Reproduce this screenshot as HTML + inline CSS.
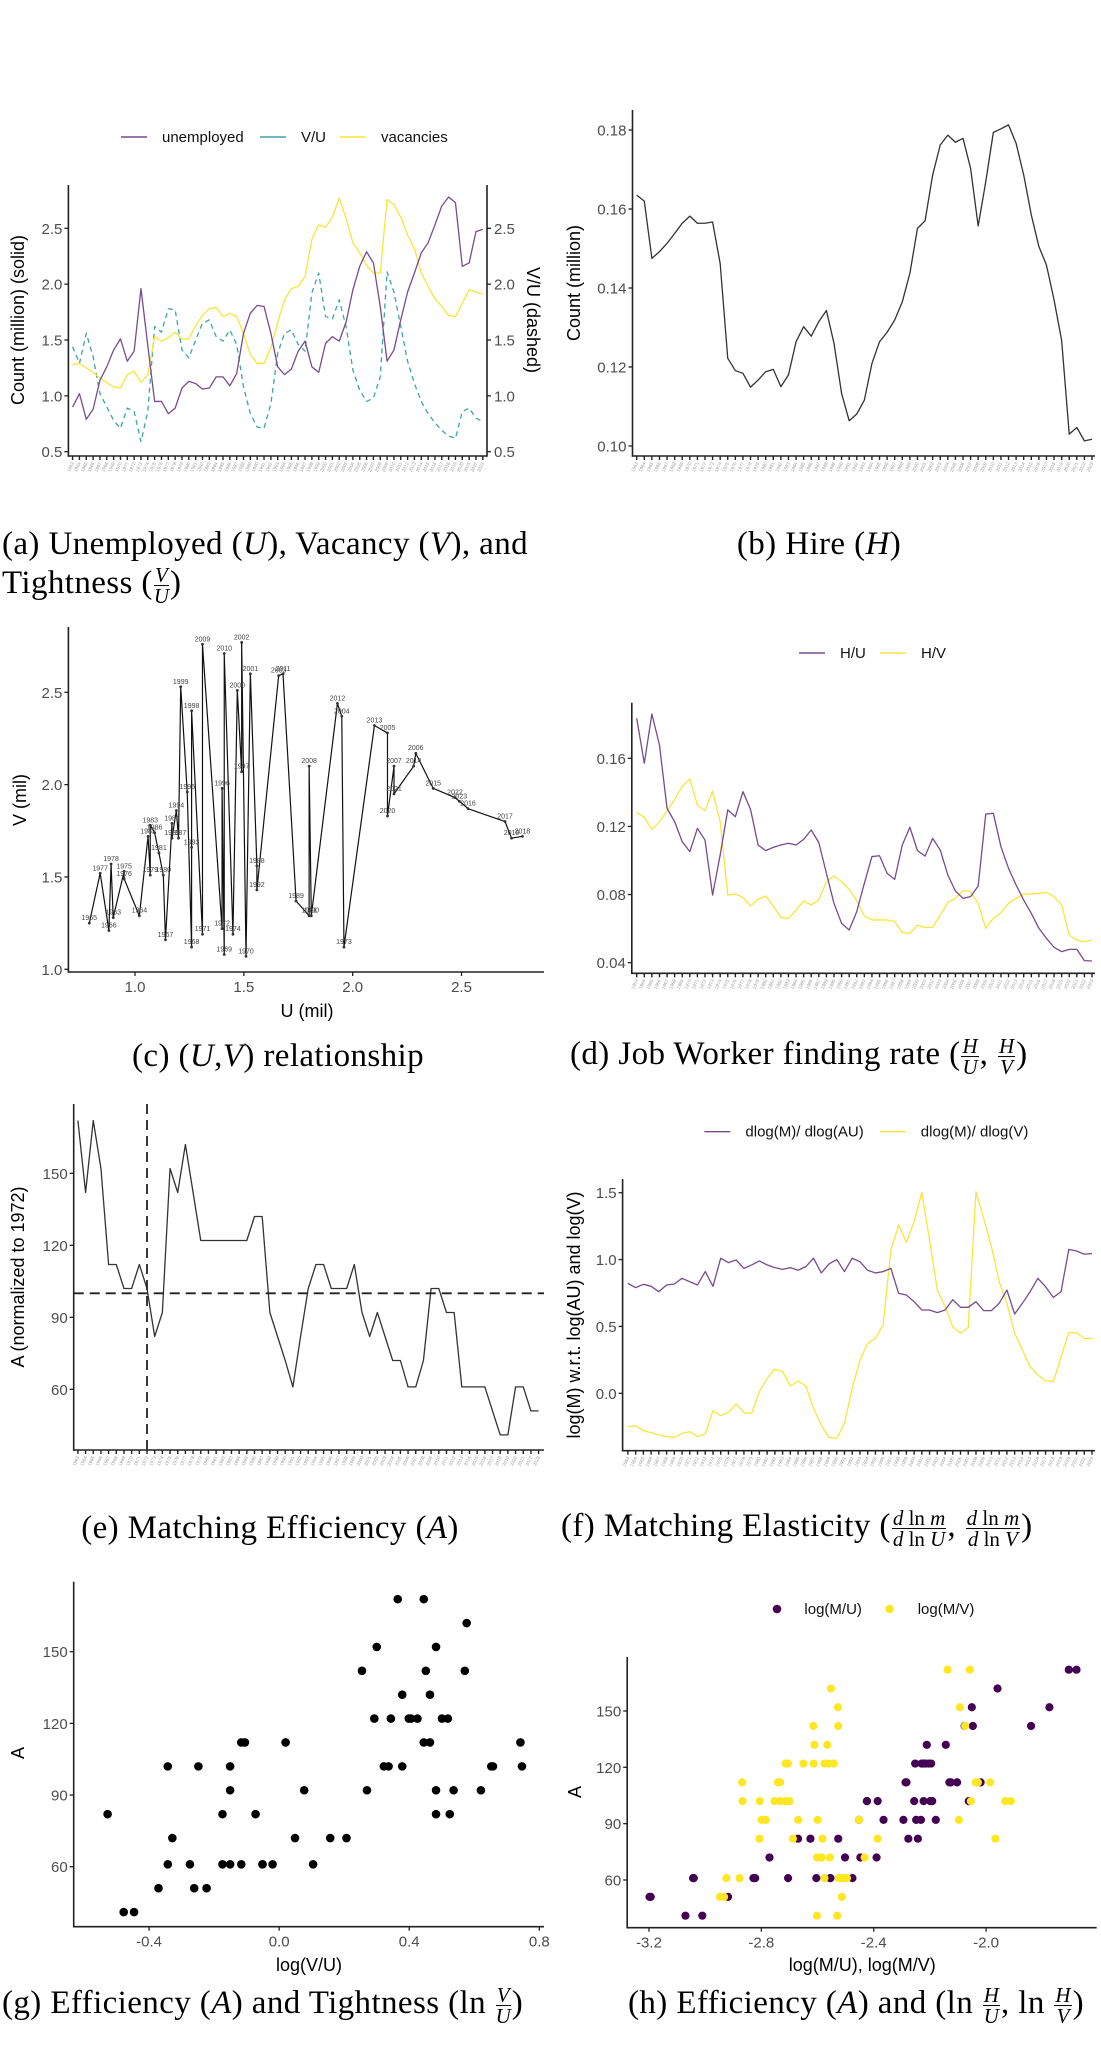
<!DOCTYPE html>
<html><head><meta charset="utf-8">
<style>
html,body{margin:0;padding:0;background:#fff;}
#wrap{position:relative;width:1101px;height:2052px;overflow:hidden;background:#fff;}
svg{position:absolute;left:0;top:0;}
.cap{position:absolute;font-family:"Liberation Serif",serif;font-size:33px;letter-spacing:0.4px;color:#000;white-space:nowrap;line-height:38px;}
.cap i{font-style:italic;}
.frac{display:inline-flex;flex-direction:column;vertical-align:middle;font-size:21px;line-height:20px;text-align:center;margin:0 1px;letter-spacing:0;}
.frac span:first-child{border-bottom:1px solid #000;padding:0 1px;}
.ctr{transform:translate(-50%,-50%);}
.lft{transform:translate(0,-50%);}
</style></head>
<body>
<div id="wrap">
<svg id="fig" width="1101" height="2052" viewBox="0 0 1101 2052"></svg>
<div class="cap lft" style="left:2px;top:544px">(a) Unemployed (<i>U</i>), Vacancy (<i>V</i>), and</div>
<div class="cap lft" style="left:2px;top:585px">Tightness (<span class="frac"><span><i>V</i></span><span><i>U</i></span></span>)</div>
<div class="cap ctr" style="left:819px;top:544px">(b) Hire (<i>H</i>)</div>
<div class="cap ctr" style="left:278px;top:1056px">(c) (<i>U</i>,<i>V</i>) relationship</div>
<div class="cap lft" style="left:570px;top:1056px">(d) Job Worker finding rate (<span class="frac"><span><i>H</i></span><span><i>U</i></span></span>, <span class="frac"><span><i>H</i></span><span><i>V</i></span></span>)</div>
<div class="cap ctr" style="left:270px;top:1528px">(e) Matching Efficiency (<i>A</i>)</div>
<div class="cap lft" style="left:561px;top:1528px">(f) Matching Elasticity (<span class="frac"><span><i>d</i> ln <i>m</i></span><span><i>d</i> ln <i>U</i></span></span>, <span class="frac"><span><i>d</i> ln <i>m</i></span><span><i>d</i> ln <i>V</i></span></span>)</div>
<div class="cap lft" style="left:2px;top:2005px">(g) Efficiency (<i>A</i>) and Tightness (ln <span class="frac"><span><i>V</i></span><span><i>U</i></span></span>)</div>
<div class="cap lft" style="left:628px;top:2005px">(h) Efficiency (<i>A</i>) and (ln <span class="frac"><span><i>H</i></span><span><i>U</i></span></span>, ln <span class="frac"><span><i>H</i></span><span><i>V</i></span></span>)</div>
</div>
<script>
// ---- data ----
const years=[1963,1964,1965,1966,1967,1968,1969,1970,1971,1972,1973,1974,1975,1976,1977,1978,1979,1980,1981,1982,1983,1984,1985,1986,1987,1988,1989,1990,1991,1992,1993,1994,1995,1996,1997,1998,1999,2000,2001,2002,2003,2004,2005,2006,2007,2008,2009,2010,2011,2012,2013,2014,2015,2016,2017,2018,2019,2020,2021,2022,2023];
const unemployed=[0.90,1.02,0.79,0.88,1.14,1.26,1.41,1.51,1.31,1.40,1.96,1.45,0.95,0.95,0.84,0.89,1.07,1.13,1.11,1.06,1.07,1.17,1.17,1.09,1.20,1.56,1.74,1.81,1.80,1.56,1.26,1.19,1.24,1.40,1.49,1.26,1.21,1.47,1.53,1.49,1.66,1.95,2.16,2.29,2.19,1.80,1.31,1.41,1.68,1.93,2.10,2.28,2.37,2.53,2.70,2.78,2.73,2.16,2.19,2.47,2.49];
const vacancies=[1.28,1.29,1.25,1.21,1.16,1.12,1.08,1.07,1.19,1.22,1.12,1.19,1.53,1.49,1.52,1.57,1.51,1.51,1.63,1.72,1.78,1.79,1.71,1.74,1.71,1.56,1.37,1.29,1.29,1.43,1.66,1.86,1.96,1.98,2.07,2.40,2.53,2.51,2.60,2.77,2.59,2.37,2.28,2.17,2.10,2.10,2.76,2.71,2.60,2.44,2.32,2.10,1.98,1.87,1.80,1.72,1.71,1.83,1.95,1.93,1.91];
const tightness=[1.44,1.29,1.56,1.35,1.02,0.90,0.78,0.71,0.89,0.86,0.59,0.86,1.62,1.57,1.78,1.77,1.41,1.34,1.50,1.65,1.68,1.53,1.49,1.59,1.46,1.08,0.84,0.72,0.71,0.93,1.38,1.56,1.59,1.46,1.40,1.92,2.10,1.71,1.69,1.86,1.62,1.23,1.05,0.95,0.98,1.17,2.11,1.93,1.62,1.31,1.11,0.95,0.84,0.76,0.69,0.64,0.62,0.86,0.89,0.80,0.77];
const hires=[0.1635,0.1620,0.1475,0.1492,0.1513,0.1538,0.1564,0.1582,0.1564,0.1564,0.1567,0.1462,0.1222,0.1191,0.1184,0.1149,0.1167,0.1188,0.1194,0.1150,0.1180,0.1264,0.1302,0.1278,0.1315,0.1343,0.1260,0.1133,0.1064,0.1081,0.1116,0.1209,0.1264,0.1288,0.1319,0.1365,0.1437,0.1551,0.1570,0.1686,0.1762,0.1787,0.1769,0.1779,0.1703,0.1557,0.1669,0.1794,0.1803,0.1813,0.1766,0.1686,0.1585,0.1505,0.1458,0.1370,0.1267,0.1030,0.1047,0.1013,0.1017];
const hPerU=[0.1835,0.1571,0.1860,0.1678,0.1306,0.1228,0.1111,0.1052,0.1189,0.1120,0.0797,0.1032,0.1297,0.1257,0.1404,0.1300,0.1091,0.1058,0.1077,0.1091,0.1101,0.1091,0.1124,0.1179,0.1105,0.0925,0.0748,0.0631,0.0592,0.0700,0.0866,0.1023,0.1028,0.0925,0.0889,0.1091,0.1195,0.1058,0.1026,0.1130,0.1062,0.0915,0.0821,0.0778,0.0788,0.0850,0.1273,0.1277,0.1081,0.0954,0.0856,0.0768,0.0690,0.0602,0.0543,0.0490,0.0465,0.0478,0.0478,0.0412,0.0410];
const hPerV=[0.1281,0.1254,0.1183,0.1228,0.1291,0.1359,0.1434,0.1479,0.1326,0.1293,0.1408,0.1228,0.0797,0.0803,0.0784,0.0733,0.0772,0.0792,0.0733,0.0666,0.0660,0.0709,0.0762,0.0739,0.0768,0.0876,0.0909,0.0876,0.0831,0.0764,0.0674,0.0651,0.0651,0.0651,0.0641,0.0578,0.0572,0.0621,0.0606,0.0608,0.0680,0.0752,0.0778,0.0823,0.0817,0.0748,0.0602,0.0660,0.0694,0.0748,0.0778,0.0803,0.0803,0.0807,0.0813,0.0788,0.0739,0.0562,0.0533,0.0523,0.0533];
const efficiency=[172,142,172,152,112,112,102,102,112,102,82,92,152,142,162,142,122,122,122,122,122,122,122,132,132,92,82,72,61,82,102,112,112,102,102,102,112,92,82,92,82,72,72,61,61,72,102,102,92,92,61,61,61,61,51,41,41,61,61,51,51];
const elasU=[0.822,0.79,0.815,0.80,0.76,0.81,0.817,0.86,0.834,0.81,0.91,0.80,1.01,0.977,0.997,0.934,0.96,0.99,0.96,0.94,0.927,0.94,0.92,0.947,1.01,0.90,0.967,1.0,0.91,1.01,0.984,0.92,0.90,0.91,0.934,0.747,0.735,0.685,0.623,0.623,0.603,0.623,0.70,0.643,0.643,0.685,0.618,0.618,0.673,0.772,0.593,0.673,0.76,0.86,0.797,0.717,0.76,1.076,1.064,1.04,1.045];
const elasV=[-0.25,-0.242,-0.279,-0.294,-0.311,-0.324,-0.33,-0.30,-0.287,-0.324,-0.304,-0.13,-0.167,-0.142,-0.08,-0.145,-0.15,0.012,0.112,0.18,0.162,0.055,0.092,0.055,-0.112,-0.237,-0.33,-0.337,-0.224,0.037,0.249,0.374,0.411,0.511,1.071,1.258,1.129,1.283,1.5,1.146,0.772,0.648,0.498,0.448,0.493,1.507,1.308,1.096,0.835,0.673,0.448,0.324,0.199,0.137,0.095,0.087,0.274,0.453,0.453,0.411,0.41];
const ticksA=[0.5,1.0,1.5,2.0,2.5];
const ticksB=[0.10,0.12,0.14,0.16,0.18];
const ticksCx=[1.0,1.5,2.0,2.5];
const ticksCy=[1.0,1.5,2.0,2.5];
const ticksD=[0.04,0.08,0.12,0.16];
const ticksE=[60,90,120,150];
const ticksF=[0.0,0.5,1.0,1.5];
const ticksGx=[-0.4,0.0,0.4,0.8];
const ticksGy=[60,90,120,150];
const ticksHx=[-3.2,-2.8,-2.4,-2.0];
const ticksHy=[60,90,120,150];
const refYear=1972;
const refLevel=100;

// ---- helpers ----
const NS='http://www.w3.org/2000/svg';
const svg=document.getElementById('fig');
const PURPLE='#774c8e',TEAL='#3aa6a3',YELLOW='#f9e53a',DPURPLE='#440154',DYELLOW='#FDE725';
function lin(d0,d1,r0,r1){return v=>r0+(v-d0)*(r1-r0)/(d1-d0);}
function el(tag,attrs,parent){const e=document.createElementNS(NS,tag);for(const k in attrs)e.setAttribute(k,attrs[k]);parent.appendChild(e);return e;}
function grp(name,parent){const g=el('g',{},parent||svg);


return g;}
function txt(parent,x,y,s,opt){const t=el('text',Object.assign({x:x,y:y,'font-family':'Liberation Sans, sans-serif','font-size':15,fill:'#4d4d4d'},opt||{}),parent);t.textContent=s;return t;}
function fmt(v,d){return v.toFixed(d);}
function axes(g,xL,yT,yB,xR){
 const a=el('line',{x1:xL,y1:yT,x2:xL,y2:yB+0.7,stroke:'#222','stroke-width':1.6},g);
 
 
 const b=el('line',{x1:xL-0.7,y1:yB,x2:xR,y2:yB,stroke:'#222','stroke-width':1.6},g);
 
 
}
function yTicks(g,vals,fy,xL,dec,side){
 vals.forEach(v=>{const y=fy(v);
  const dx=side==='right'?4:-4;
  el('line',{x1:xL,y1:y,x2:xL+dx,y2:y,stroke:'#222','stroke-width':1.3},g);
  const t=txt(g,side==='right'?xL+7:xL-6,y+5.5,fmt(v,dec),{'text-anchor':side==='right'?'start':'end'});
  
  
 });
}
function xTicks(g,vals,fx,yB,dec){
 vals.forEach(v=>{const x=fx(v);
  el('line',{x1:x,y1:yB,x2:x,y2:yB+4,stroke:'#222','stroke-width':1.3},g);
  const t=txt(g,x,yB+20,fmt(v,dec),{'text-anchor':'middle'});
  
  
 });
}
function yearTicks(g,fx,yB){
 years.forEach((yr,i)=>{const x=fx(i);
  el('line',{x1:x,y1:yB,x2:x,y2:yB+4,stroke:'#222','stroke-width':1.4},g);
  const t=txt(g,x+1.5,yB+7,String(yr),{'font-size':4.6,fill:'#9a9a9a','text-anchor':'end',transform:'rotate(-65 '+(x+1.5)+' '+(yB+7)+')'});
  
  
 });
}
function series(g,vals,fx,fy,color,dash,width){
 const d=vals.map((v,i)=>(i?'L':'M')+fx(i).toFixed(2)+' '+fy(v).toFixed(2)).join(' ');
 const p=el('path',{d:d,fill:'none',stroke:color,'stroke-width':width||1.3,'stroke-linejoin':'round'},g);
 if(dash)p.setAttribute('stroke-dasharray',dash);
 return p;
}
function title(g,x,y,s,rot){const t=txt(g,x,y,s,{'font-size':18,fill:'#000','text-anchor':'middle'});if(rot)t.setAttribute('transform','rotate('+rot+' '+x+' '+y+')');return t;}
function legLine(g,x,y,color,label,dash){
 const l=el('line',{x1:x,y1:y,x2:x+26,y2:y,stroke:color,'stroke-width':1.4},g);
 if(dash)l.setAttribute('stroke-dasharray',dash);
 
 
 const t=txt(g,x+41,y+5,label,{fill:'#111'});
 
 
}

// ---- panel a ----
(function(){
 const g=grp('panel-a-unemployed-vacancy-tightness');
 const fx=lin(0,60,72.6,482.8), fy=lin(0.5,2.5,451.7,228.3);
 const leg=grp('legend-a',g);
 legLine(leg,121,137,PURPLE,'unemployed');
 legLine(leg,260,137,TEAL,'V/U');
 legLine(leg,340,137,YELLOW,'vacancies');
 const s1=series(g,tightness,fx,fy,TEAL,'5 4');
 
 
 const s2=series(g,vacancies,fx,fy,YELLOW);
 
 
 const s3=series(g,unemployed,fx,fy,PURPLE);
 
 
 axes(g,68.4,185,456,487);
 const r=el('line',{x1:487,y1:185,x2:487,y2:456.7,stroke:'#222','stroke-width':1.6},g);
 
 
 yTicks(g,ticksA,fy,68.4,1,'left');
 yTicks(g,ticksA,fy,487,1,'right');
 yearTicks(g,fx,456);
 const t1=title(g,24,320,'Count (million) (solid)',-90);
 
 
 const t2=title(g,527,320,'V/U (dashed)',90);
 
 
})();

// ---- panel b ----
(function(){
 const g=grp('panel-b-hires');
 const fx=lin(0,60,636.7,1092), fy=lin(0.10,0.18,446,130);
 const s=series(g,hires,fx,fy,'#333');
 
 
 axes(g,632.5,110,456,1095);
 yTicks(g,ticksB,fy,632.5,2,'left');
 yearTicks(g,fx,456);
 const t=title(g,580,283,'Count (million)',-90);
 
 
})();

// ---- panel c ----
(function(){
 const g=grp('panel-c-uv-relationship');
 const fx=lin(1.0,2.5,135,461.5), fy=lin(1.0,2.5,969.3,692.3);
 const idx=years.map((y,i)=>i).sort((a,b)=>unemployed[a]-unemployed[b]);
 const d=idx.map((i,k)=>(k?'L':'M')+fx(unemployed[i]).toFixed(2)+' '+fy(vacancies[i]).toFixed(2)).join(' ');
 const p=el('path',{d:d,fill:'none',stroke:'#111','stroke-width':1.2,'stroke-linejoin':'round'},g);
 
 
 idx.forEach(i=>{
  const x=fx(unemployed[i]),y=fy(vacancies[i]);
  const c=el('circle',{cx:x,cy:y,r:1.4,fill:'#333'},g);
  
  
  const t=txt(g,x,y-3,String(years[i]),{'font-size':7,fill:'#444','text-anchor':'middle'});
  
  
 });
 axes(g,68.4,627,972,544);
 yTicks(g,ticksCy,fy,68.4,1,'left');
 xTicks(g,ticksCx,fx,972,1);
 const t1=title(g,307,1017,'U (mil)');
 
 
 const t2=title(g,26,800,'V (mil)',-90);
 
 
})();

// ---- panel d ----
(function(){
 const g=grp('panel-d-finding-rates');
 const fx=lin(0,60,636.7,1092), fy=lin(0.04,0.16,962.7,758.3);
 const leg=grp('legend-d',g);
 legLine(leg,799,653,PURPLE,'H/U');
 legLine(leg,880,653,YELLOW,'H/V');
 const s2=series(g,hPerV,fx,fy,YELLOW);
 
 
 const s1=series(g,hPerU,fx,fy,PURPLE);
 
 
 axes(g,631.8,702.7,973.3,1095);
 yTicks(g,ticksD,fy,631.8,2,'left');
 yearTicks(g,fx,973.3);
})();

// ---- panel e ----
(function(){
 const g=grp('panel-e-matching-efficiency');
 const fx=lin(0,60,77.9,538.6), fy=lin(60,150,1389.3,1173.3);
 const s=series(g,efficiency,fx,fy,'#333');
 
 
 const h=el('line',{x1:73.7,y1:fy(refLevel),x2:544,y2:fy(refLevel),stroke:'#222','stroke-width':1.8,'stroke-dasharray':'10 6'},g);
 
 
 const xr=fx(years.indexOf(refYear));
 const v=el('line',{x1:xr,y1:1104,x2:xr,y2:1450,stroke:'#222','stroke-width':1.8,'stroke-dasharray':'10 6'},g);
 
 
 axes(g,73.7,1104,1450,544);
 yTicks(g,ticksE,fy,73.7,0,'left');
 yearTicks(g,fx,1450);
 const t=title(g,24,1277,'A (normalized to 1972)',-90);
 
 
})();

// ---- panel f ----
(function(){
 const g=grp('panel-f-matching-elasticity');
 const fx=lin(0,60,627.9,1092), fy=lin(0,1.5,1393.3,1192.7);
 const leg=grp('legend-f',g);
 legLine(leg,704.4,1131.7,PURPLE,'dlog(M)/ dlog(AU)');
 legLine(leg,879.8,1131.7,YELLOW,'dlog(M)/ dlog(V)');
 const s2=series(g,elasV,fx,fy,YELLOW);
 
 
 const s1=series(g,elasU,fx,fy,PURPLE);
 
 
 axes(g,622.6,1179,1450.7,1095);
 yTicks(g,ticksF,fy,622.6,1,'left');
 yearTicks(g,fx,1450.7);
 const t=title(g,580,1315,'log(M) w.r.t. log(AU) and log(V)',-90);
 
 
})();

// ---- panel g ----
(function(){
 const g=grp('panel-g-efficiency-vs-tightness');
 const fx=lin(-0.4,0.8,149.1,539.3), fy=lin(60,150,1866.7,1651.7);
 tightness.forEach((t,i)=>{
  const c=el('circle',{cx:fx(Math.log(t)),cy:fy(efficiency[i]),r:4.3,fill:'#000'},g);
  
  
 });
 axes(g,73.7,1581.7,1926.7,544);
 yTicks(g,ticksGy,fy,73.7,0,'left');
 xTicks(g,ticksGx,fx,1926.7,1);
 const t1=title(g,309,1971,'log(V/U)');
 
 
 const t2=title(g,24,1753,'A',-90);
 
 
})();

// ---- panel h ----
(function(){
 const g=grp('panel-h-efficiency-vs-rates');
 const fx=lin(-3.2,-2.0,649,986.1), fy=lin(60,150,1880,1711);
 const leg=grp('legend-h',g);
 const d1=el('circle',{cx:777,cy:1609,r:4.3,fill:DPURPLE},leg);
 
 
 const l1=txt(leg,804.4,1614,'log(M/U)',{fill:'#111'});
 
 
 const d2=el('circle',{cx:889.6,cy:1609,r:4.3,fill:DYELLOW},leg);
 
 
 const l2=txt(leg,917.7,1614,'log(M/V)',{fill:'#111'});
 
 
 hires.forEach((h,i)=>{
  const c=el('circle',{cx:fx(Math.log(h/unemployed[i])),cy:fy(efficiency[i]),r:4.1,fill:DPURPLE},g);
  
  
 });
 hires.forEach((h,i)=>{
  const c=el('circle',{cx:fx(Math.log(h/vacancies[i])),cy:fy(efficiency[i]),r:4.1,fill:DYELLOW},g);
  
  
 });
 axes(g,627.2,1657,1927.7,1096.7);
 yTicks(g,ticksHy,fy,627.2,0,'left');
 xTicks(g,ticksHx,fx,1927.7,1);
 const t1=title(g,862.3,1971,'log(M/U), log(M/V)');
 
 
 const t2=title(g,581,1792,'A',-90);
 
 
})();
</script>
</body></html>
